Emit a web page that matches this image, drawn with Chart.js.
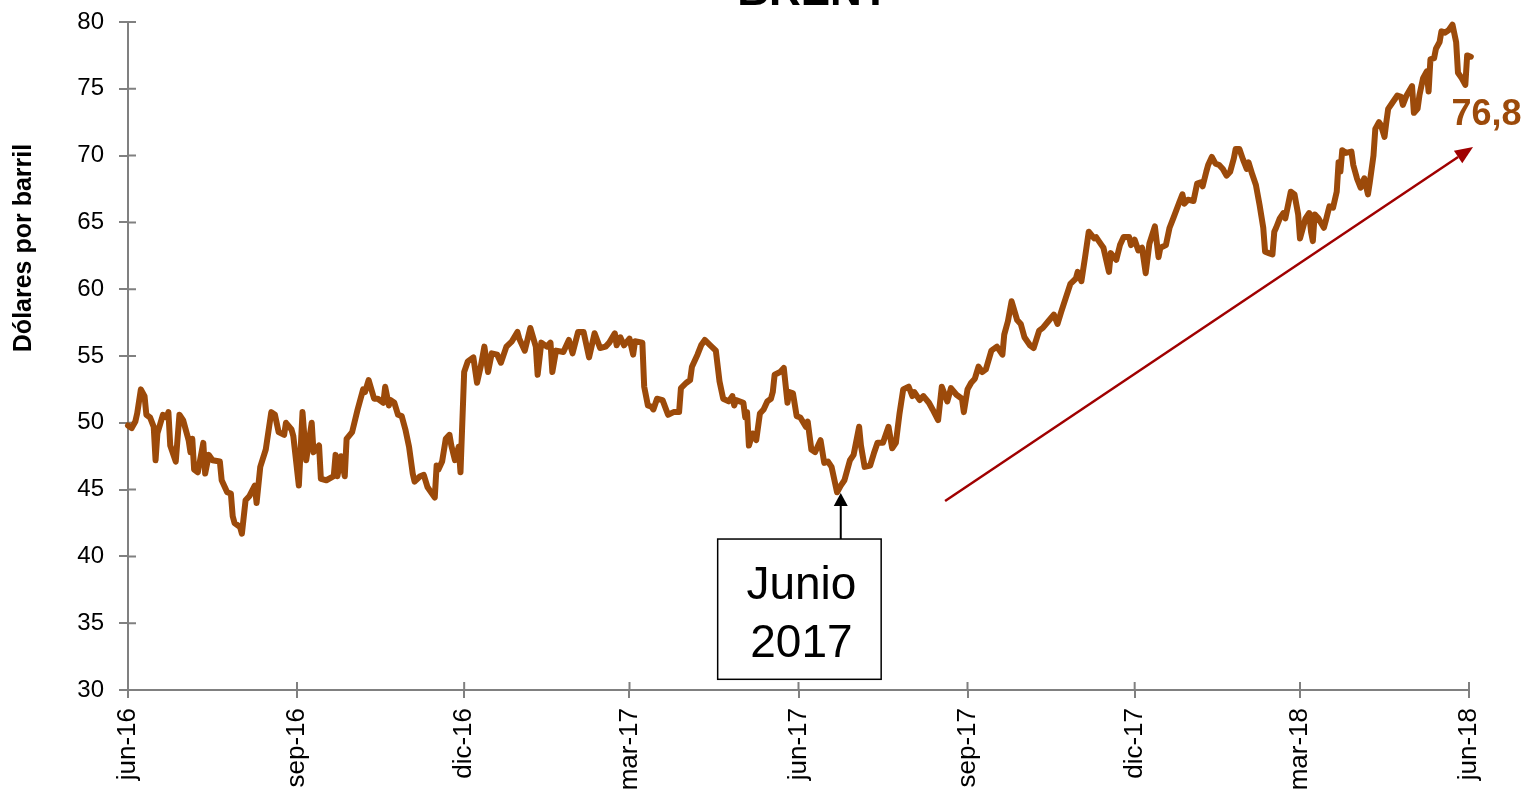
<!DOCTYPE html>
<html>
<head>
<meta charset="utf-8">
<script src="https://cdn.jsdelivr.net/npm/chart.js@4.4.1/dist/chart.umd.min.js"></script>
<style>
  html, body { margin:0; padding:0; background:#fff; }
  #caja { width:1528px; height:791px; position:relative; }
</style>
</head>
<body>
<div id="caja"><canvas id="brent"></canvas></div>
<script>
// dias contados desde el 1 de junio de 2016
const dias = [0,2,4,5,7,9,10,12,14,15,
  16,19,21,22,23,26,28,30,33,34,
  35,36,38,41,42,44,46,50,51,54,
  56,57,58,61,62,64,66,69,70,72,
  75,78,80,82,85,86,89,90,93,95,
  97,100,101,104,105,108,112,113,114,116,
  118,119,122,125,128,129,131,134,136,139,
  140,142,143,145,147,149,151,153,155,156,
  159,161,163,167,168,169,171,173,175,176,
  178,180,181,183,185,188,190,192,194,196,
  198,201,203,206,209,212,213,216,219,222,
  223,225,228,230,231,233,237,240,242,245,
  248,251,254,257,260,262,265,266,268,270,
  273,275,276,280,281,283,285,286,288,291,
  294,297,300,301,304,306,307,310,312,314,
  317,320,322,324,327,329,330,331,335,336,
  337,338,340,342,344,346,348,350,351,352,
  355,357,359,360,362,364,366,369,370,372,
  374,377,379,381,383,386,388,390,393,395,
  398,399,401,404,406,408,411,414,416,418,
  420,422,425,427,428,431,433,436,438,441,
  443,446,448,451,454,455,457,459,461,463,
  465,467,470,473,476,477,479,481,484,486,
  488,491,493,496,498,501,504,506,508,513,
  516,517,519,521,523,526,527,530,531,534,
  535,538,540,542,545,546,548,550,552,554,
  556,559,561,562,565,567,569,572,574,575,
  577,580,582,584,585,587,588,590,592,594,
  596,598,600,602,603,605,607,609,610,612,
  614,616,618,619,621,623,624,625,627,629,
  630,633,635,637,638,641,643,644,645,646,
  648,651,652,654,656,658,659,660,661,663,
  666,667,669,671,673,675,676,678,679,681,
  682,684,685,686,688,691,693,694,696,699,
  700,702,703,705,707,708,709,711,712,714,
  715,717,719,721,723,724,726,728,729,731,
  732];

// dolares por barril
const precios = [49.8,49.6,50.1,50.7,52.5,52.0,50.6,50.4,49.7,47.2,
  49.2,50.6,50.4,50.8,48.3,47.1,50.6,50.2,48.7,47.8,
  48.8,46.5,46.3,48.5,46.2,47.6,47.2,47.1,45.7,44.8,
  44.7,43.0,42.5,42.2,41.7,44.2,44.5,45.3,44.0,46.7,
  48.0,50.8,50.6,49.3,49.1,50.0,49.5,49.0,45.3,50.8,
  47.2,50.0,47.8,48.3,45.8,45.7,46.0,47.6,46.0,47.5,
  46.0,48.8,49.3,51.0,52.5,52.3,53.2,51.8,51.8,51.5,
  52.7,51.3,51.7,51.5,50.6,50.5,49.5,48.2,46.2,45.6,
  46.0,46.1,45.2,44.4,46.8,46.5,47.1,48.8,49.1,48.3,
  47.2,48.2,46.3,53.8,54.6,54.9,53.0,54.2,55.7,53.8,
  55.2,55.1,54.5,55.7,56.1,56.8,56.3,55.4,57.1,55.7,
  53.6,56.0,55.7,56.0,53.8,55.4,55.3,56.2,55.2,56.8,
  56.8,54.9,56.7,55.6,55.7,56.0,56.7,55.8,56.4,55.8,
  56.3,55.1,56.1,56.0,52.7,51.3,51.2,51.0,51.8,51.7,
  50.6,50.8,50.8,52.6,53.0,53.2,54.2,55.1,55.8,56.2,
  55.8,55.4,53.1,51.8,51.6,52.0,51.3,51.7,51.5,50.4,
  50.8,48.3,49.2,48.7,50.7,51.0,51.6,51.8,52.3,53.6,
  53.8,54.1,51.5,52.3,52.2,50.5,50.4,49.7,50.1,48.0,
  47.8,48.7,47.0,47.1,46.7,44.8,45.3,45.7,47.2,47.6,
  49.7,48.3,46.7,46.8,47.7,48.5,48.5,49.7,48.1,48.5,
  50.7,52.5,52.7,52.0,52.3,51.7,52.0,51.5,51.0,50.2,
  52.7,51.6,52.6,52.1,51.8,50.8,52.5,53.0,53.3,54.2,
  53.8,54.0,55.4,55.7,55.1,56.6,57.6,59.1,57.7,57.4,
  56.4,55.8,55.6,56.9,57.1,57.6,58.1,57.4,58.3,60.4,
  60.8,61.3,60.6,62.4,64.3,63.8,63.9,63.3,63.1,61.3,
  62.7,62.2,63.3,63.9,63.9,63.3,63.7,62.9,63.1,61.2,
  63.4,64.7,62.4,63.1,63.3,64.6,65.3,66.4,67.1,66.4,
  66.7,66.6,67.9,68.0,67.7,68.8,69.3,69.9,69.4,69.3,
  69.0,68.5,68.8,69.8,70.5,70.5,69.7,69.0,69.5,68.6,
  67.8,66.3,64.6,62.8,62.7,62.6,64.3,64.6,65.3,65.7,
  65.3,67.3,67.1,65.6,63.8,65.3,65.7,64.3,63.6,65.6,
  65.3,64.6,65.1,66.2,66.1,67.3,69.5,68.8,70.4,70.2,
  70.3,69.3,68.3,67.6,68.3,67.1,68.0,70.0,72.0,72.5,
  72.3,71.4,72.5,73.5,73.9,74.5,74.4,73.8,74.5,75.2,
  73.2,73.5,74.5,75.8,76.3,74.8,77.2,77.3,78.0,78.5,
  79.3,79.2,79.4,79.8,78.5,76.2,75.8,75.3,77.5,77.4,
  76.8];

const tickDias = [0,92,183,273,365,457,548,638,730];
const etiquetasX = ['jun-16','sep-16','dic-16','mar-17','jun-17','sep-17','dic-17','mar-18','jun-18'];

const colorLinea = '#9C4A0A';
const gris = '#808080';
const fuente = '"Liberation Sans", Arial, sans-serif';

Chart.defaults.font.family = fuente;
Chart.defaults.color = '#000';

// marcas que cruzan el eje (la parte de dentro)
const marcasInternas = {
  id: 'marcasInternas',
  beforeDatasetsDraw(chart){
    const {ctx, chartArea:a, scales:{x, y}} = chart;
    ctx.save();
    ctx.strokeStyle = gris; ctx.lineWidth = 2;
    ctx.beginPath();
    y.ticks.forEach((t,i)=>{ const py = y.getPixelForTick(i); ctx.moveTo(a.left, py); ctx.lineTo(a.left+8, py); });
    x.ticks.forEach((t,i)=>{ const px = x.getPixelForTick(i); ctx.moveTo(px, a.bottom); ctx.lineTo(px, a.bottom-8); });
    ctx.stroke();
    ctx.restore();
  }
};

function flecha(ctx, x0, y0, x1, y1, color, ancho, largo, medio){
  const ang = Math.atan2(y1-y0, x1-x0);
  const bx = x1 - largo*Math.cos(ang), by = y1 - largo*Math.sin(ang);
  ctx.strokeStyle = color; ctx.fillStyle = color; ctx.lineWidth = ancho;
  ctx.beginPath(); ctx.moveTo(x0,y0); ctx.lineTo(bx,by); ctx.stroke();
  ctx.beginPath();
  ctx.moveTo(x1,y1);
  ctx.lineTo(bx + medio*Math.sin(ang), by - medio*Math.cos(ang));
  ctx.lineTo(bx - medio*Math.sin(ang), by + medio*Math.cos(ang));
  ctx.closePath(); ctx.fill();
}

const notas = {
  id: 'notas',
  afterDraw(chart){
    const {ctx, scales:{x, y}} = chart;
    ctx.save();

    // titulo (cortado arriba, como en el original)
    ctx.fillStyle = '#000';
    ctx.font = 'bold 44px ' + fuente;
    ctx.textAlign = 'center'; ctx.textBaseline = 'alphabetic';
    ctx.fillText('BRENT', 813, 5);

    // titulo del eje y
    ctx.save();
    ctx.translate(24, 248);
    ctx.rotate(-Math.PI/2);
    ctx.font = 'bold 25px ' + fuente;
    ctx.textBaseline = 'middle';
    ctx.textAlign = 'center';
    ctx.fillText('Dólares por barril', 0, 0);
    ctx.restore();

    // recuadro Junio 2017
    const bx0 = x.getPixelForValue(321), bx1 = x.getPixelForValue(410);
    const by0 = y.getPixelForValue(41.3), by1 = y.getPixelForValue(30.8);
    ctx.fillStyle = '#fff';
    ctx.fillRect(bx0, by0, bx1-bx0, by1-by0);
    ctx.strokeStyle = '#000'; ctx.lineWidth = 1.5;
    ctx.strokeRect(bx0, by0, bx1-bx0, by1-by0);
    ctx.fillStyle = '#000';
    ctx.font = '46px ' + fuente;
    ctx.textAlign = 'center'; ctx.textBaseline = 'alphabetic';
    const cx = (bx0+bx1)/2 + 2;
    ctx.fillText('Junio', cx, y.getPixelForValue(36.8));
    ctx.fillText('2017', cx, y.getPixelForValue(32.5));
    const ax = x.getPixelForValue(388);
    flecha(ctx, ax, by0, ax, y.getPixelForValue(44.75), '#000', 2, 13, 7);

    // tendencia
    flecha(ctx, x.getPixelForValue(444.8), y.getPixelForValue(44.15),
                x.getPixelForValue(732.2), y.getPixelForValue(70.64), '#A00000', 2.5, 18, 7.5);

    // ultimo valor
    ctx.fillStyle = colorLinea;
    ctx.font = 'bold 36px ' + fuente;
    ctx.textAlign = 'left'; ctx.textBaseline = 'middle';
    ctx.fillText('76,8', x.getPixelForValue(720.5), y.getPixelForValue(73.0));

    ctx.restore();
  }
};

new Chart(document.getElementById('brent'), {
  type: 'line',
  data: {
    datasets: [{
      data: dias.map((d,i)=>({x:d, y:precios[i]})),
      borderColor: colorLinea,
      borderWidth: 6,
      borderJoinStyle: 'round',
      borderCapStyle: 'round',
      pointRadius: 0,
      tension: 0,
      clip: false
    }]
  },
  options: {
    responsive: true, maintainAspectRatio: false, animation: false,
    layout: { padding: { top:22, right:59, left:0, bottom:0 } },
    plugins: { legend:{display:false}, tooltip:{enabled:false} },
    scales: {
      x: {
        type: 'linear', min: 0, max: 730,
        afterBuildTicks: s => { s.ticks = tickDias.map(v=>({value:v})); },
        afterFit: s => { s.height = 101; s.paddingLeft = 0; s.paddingRight = 0; },
        ticks: { callback: (v,i)=>etiquetasX[i], minRotation:90, maxRotation:90, autoSkip:false,
                 font:{size:26}, color:'#000', padding:10 },
        grid: { drawOnChartArea:false, color:gris, lineWidth:2, tickLength:8 },
        border: { color:gris, width:2 }
      },
      y: {
        min: 30, max: 80,
        afterFit: s => { s.width = 128; s.paddingTop = 0; s.paddingBottom = 0; },
        ticks: { stepSize:5, font:{size:24}, color:'#000', padding:15 },
        grid: { drawOnChartArea:false, color:gris, lineWidth:2, tickLength:9 },
        border: { color:gris, width:2 }
      }
    }
  },
  plugins: [marcasInternas, notas]
});
</script>
</body>
</html>
